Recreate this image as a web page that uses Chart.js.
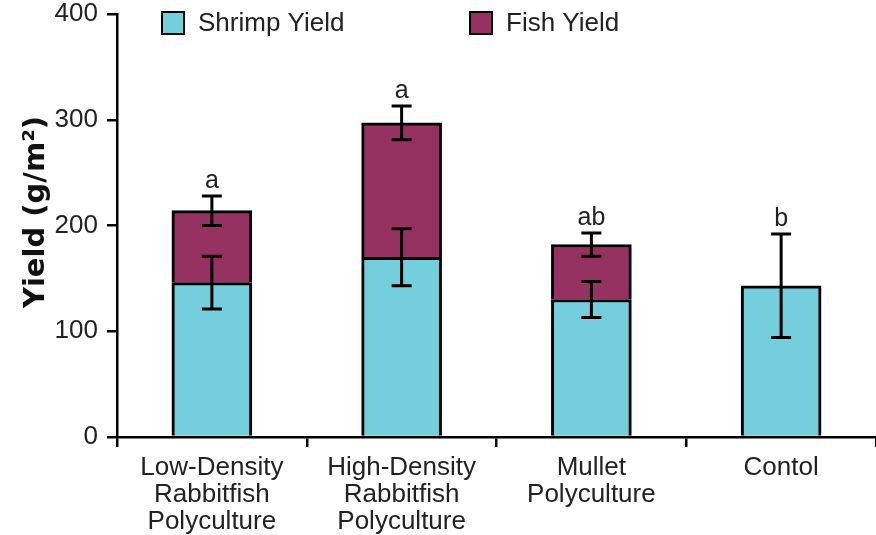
<!DOCTYPE html>
<html><head><meta charset="utf-8">
<script src="https://cdn.jsdelivr.net/npm/chart.js@4.4.0/dist/chart.umd.min.js"></script>
<style>html,body{margin:0;padding:0;background:#fff;} #wrap{width:876px;height:535px;}</style>
</head><body><div id="wrap"><canvas id="c" width="876" height="535"></canvas></div>
<script>
const categories = [
  ["Low-Density", "Rabbitfish", "Polyculture"],
  ["High-Density", "Rabbitfish", "Polyculture"],
  ["Mullet", "Polyculture"],
  ["Contol"]
];
const seriesNames = ["Shrimp Yield", "Fish Yield"];
const shrimpYield = [146, 170, 130, 143];
const fishYield = [68, 127, 52, null];
const shrimpError = [25, 27, 17, 49];
const totalError = [14, 16, 11, null];
const groupLetters = ["a", "a", "ab", "b"];
const yTitle = "Yield (g/m²)";
const yMin = 0, yMax = 400, yStep = 100;

const SHRIMP = "#74CEDC";
const FISH = "#963262";
const INK = "#000";
const TXT = "#222";
const FONT = "'Liberation Sans', Arial, Helvetica, sans-serif";

const errorPlugin = {
  id: "errs",
  afterDatasetsDraw(chart) {
    const ctx = chart.ctx, ys = chart.scales.y;
    const meta = chart.getDatasetMeta(0);
    ctx.save();
    ctx.strokeStyle = INK;
    ctx.lineWidth = 3;
    const bar = (x, v, e) => {
      const t = ys.getPixelForValue(v + e), b = ys.getPixelForValue(v - e);
      ctx.beginPath();
      ctx.moveTo(x, t); ctx.lineTo(x, b);
      ctx.moveTo(x - 10, t); ctx.lineTo(x + 10, t);
      ctx.moveTo(x - 10, b); ctx.lineTo(x + 10, b);
      ctx.stroke();
      return t;
    };
    for (let i = 0; i < shrimpYield.length; i++) {
      const x = meta.data[i].x;
      let top = bar(x, shrimpYield[i], shrimpError[i]);
      if (fishYield[i] != null && totalError[i] != null) {
        top = bar(x, shrimpYield[i] + fishYield[i], totalError[i]);
      }
      ctx.fillStyle = TXT;
      ctx.font = "25px " + FONT;
      ctx.textAlign = "center";
      ctx.textBaseline = "alphabetic";
      ctx.fillText(groupLetters[i], x, top - 8);
    }
    ctx.restore();
  }
};

const legendPlugin = {
  id: "legendCustom",
  afterDraw(chart) {
    const ctx = chart.ctx;
    const items = [
      {x: 161, name: seriesNames[0], color: SHRIMP},
      {x: 469, name: seriesNames[1], color: FISH}
    ];
    ctx.save();
    items.forEach(it => {
      ctx.fillStyle = it.color;
      ctx.fillRect(it.x, 11, 24, 24);
      ctx.strokeStyle = INK; ctx.lineWidth = 2;
      ctx.strokeRect(it.x + 1, 12, 22, 22);
      ctx.fillStyle = TXT;
      ctx.font = "26px " + FONT;
      ctx.textAlign = "left"; ctx.textBaseline = "middle";
      ctx.fillText(it.name, it.x + 37, 24);
    });
    ctx.restore();
  }
};

const titlePlugin = {
  id: "ytitle",
  afterDraw(chart) {
    const ctx = chart.ctx;
    ctx.save();
    ctx.translate(36, 212);
    ctx.rotate(-Math.PI / 2);
    ctx.fillStyle = "#111";
    ctx.font = "bold 29px 'DejaVu Sans', sans-serif";
    ctx.textAlign = "center"; ctx.textBaseline = "middle";
    ctx.fillText(yTitle, 0, 0);
    ctx.restore();
  }
};

new Chart(document.getElementById("c"), {
  type: "bar",
  data: {
    labels: categories,
    datasets: [
      {label: seriesNames[0], data: shrimpYield, backgroundColor: SHRIMP, borderColor: INK, borderWidth: 3, barThickness: 80, stack: "s"},
      {label: seriesNames[1], data: fishYield, backgroundColor: FISH, borderColor: INK, borderWidth: 3, barThickness: 80, stack: "s"}
    ]
  },
  options: {
    responsive: false,
    animation: false,
    layout: {padding: 0},
    plugins: {legend: {display: false}, tooltip: {enabled: false}, title: {display: false}},
    scales: {
      x: {
        stacked: true,
        grid: {display: true, drawOnChartArea: false, drawTicks: true, tickLength: 10, color: INK, lineWidth: 2.5},
        border: {display: true, color: INK, width: 2.5},
        ticks: {color: TXT, font: {family: FONT, size: 26, lineHeight: 1.05}, padding: 7, maxRotation: 0, autoSkip: false},
        afterFit(s) { s.height = 98; s.paddingLeft = 0; s.paddingRight = 0; }
      },
      y: {
        stacked: true,
        min: yMin, max: yMax,
        grid: {display: true, drawOnChartArea: false, drawTicks: true, tickLength: 10, color: INK, lineWidth: 2.5},
        border: {display: true, color: INK, width: 2.5},
        ticks: {stepSize: yStep, color: TXT, font: {family: FONT, size: 26}, padding: 9},
        afterFit(s) { s.width = 117; s.paddingTop = 14; s.paddingBottom = 0; }
      }
    }
  },
  plugins: [errorPlugin, legendPlugin, titlePlugin]
});
</script>
</body></html>
